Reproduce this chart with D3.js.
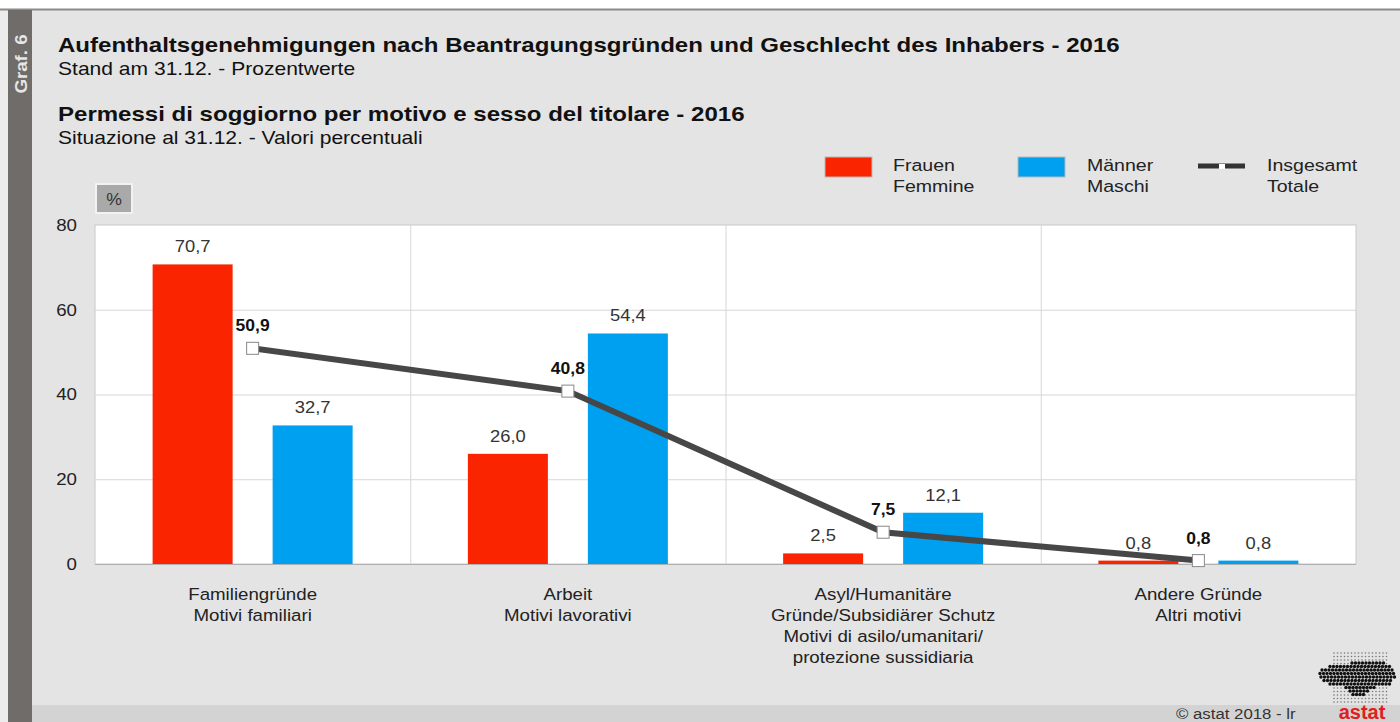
<!DOCTYPE html>
<html>
<head>
<meta charset="utf-8">
<script src="https://cdn.jsdelivr.net/npm/d3@7"></script>
<style>
  body { margin: 0; background: #fff; }
  svg { display: block; font-family: "Liberation Sans", Arial, sans-serif; }
</style>
</head>
<body>
<svg id="chart" width="1400" height="722"></svg>
<script>
// data
categories = [
  ["Familiengründe", "Motivi familiari"],
  ["Arbeit", "Motivi lavorativi"],
  ["Asyl/Humanitäre", "Gründe/Subsidiärer Schutz", "Motivi di asilo/umanitari/", "protezione sussidiaria"],
  ["Andere Gründe", "Altri motivi"]
];
frauenValues = [70.7, 26.0, 2.5, 0.8];
maennerValues = [32.7, 54.4, 12.1, 0.8];
totalValues = [50.9, 40.8, 7.5, 0.8];
yTicks = [0, 20, 40, 60, 80];
seriesNames = ["frauen", "maenner"];

let svg = d3.select("#chart");
let red = "#fa2400", blue = "#00a0f0";
let fmt = v => d3.format(".1f")(v).replace(".", ",");

// the original type is a bit wider than Liberation Sans, so text is stretched horizontally
function addText(parent, x, y, str, size, opts) {
  opts = opts || {};
  return parent.append("text")
    .attr("transform", `translate(${x},${y}) scale(${opts.sx || 1.15},1)`)
    .attr("text-anchor", opts.anchor || "start")
    .attr("font-size", size)
    .attr("font-weight", opts.bold ? "bold" : "normal")
    .attr("fill", opts.fill || "#222")
    .text(str);
}

// background frame
svg.append("rect").attr("x", 0).attr("y", 0).attr("width", 1400).attr("height", 722).attr("fill", "#fff");
svg.append("rect").attr("x", 0).attr("y", 9).attr("width", 1400).attr("height", 713).attr("fill", "#e4e4e4");
svg.append("rect").attr("x", 0).attr("y", 9).attr("width", 8).attr("height", 713).attr("fill", "#ececec");
svg.append("line").attr("x1", 0).attr("x2", 1400).attr("y1", 9.5).attr("y2", 9.5).attr("stroke", "#8a8a8a").attr("stroke-width", 2);
svg.append("rect").attr("x", 8).attr("y", 10).attr("width", 24).attr("height", 712).attr("fill", "#6f6c69");
svg.append("rect").attr("x", 32).attr("y", 705).attr("width", 1368).attr("height", 17).attr("fill", "#d3d3d3");

svg.append("text")
  .attr("transform", "translate(27,64) rotate(-90) scale(1.1,1)")
  .attr("text-anchor", "middle")
  .attr("fill", "#e6e6e6").attr("font-weight", "bold").attr("font-size", 17)
  .text("Graf. 6");

// titles
addText(svg, 58, 52, "Aufenthaltsgenehmigungen nach Beantragungsgründen und Geschlecht des Inhabers - 2016", 21, {bold: true, sx: 1.145, fill: "#111"});
addText(svg, 58, 75, "Stand am 31.12. - Prozentwerte", 18, {sx: 1.17, fill: "#111"});
addText(svg, 58, 121, "Permessi di soggiorno per motivo e sesso del titolare - 2016", 21, {bold: true, sx: 1.145, fill: "#111"});
addText(svg, 58, 144, "Situazione al 31.12. - Valori percentuali", 18, {sx: 1.17, fill: "#111"});

// scales
let plotL = 95, plotR = 1356, plotT = 225, plotB = 564;
let x = d3.scaleBand().domain(d3.range(categories.length)).range([plotL, plotR]).padding(0);
let xSub = d3.scaleBand().domain(seriesNames)
  .range([x.bandwidth() / 2 - 100, x.bandwidth() / 2 + 100]).paddingInner(1 / 3);
let y = d3.scaleLinear().domain([0, 80]).range([plotB, plotT]);

// plot area
svg.append("rect").attr("x", plotL).attr("y", plotT).attr("width", plotR - plotL).attr("height", plotB - plotT)
  .attr("fill", "#fff").attr("stroke", "#c8c8c8");

svg.selectAll(".grid").data(yTicks.slice(1, -1)).enter().append("line")
  .attr("x1", plotL).attr("x2", plotR)
  .attr("y1", d => y(d) + 0.5).attr("y2", d => y(d) + 0.5)
  .attr("stroke", "#d6d6d6");

svg.selectAll(".sep").data(d3.range(1, categories.length)).enter().append("line")
  .attr("x1", d => x(d) + 0.5).attr("x2", d => x(d) + 0.5)
  .attr("y1", plotT).attr("y2", plotB)
  .attr("stroke", "#d6d6d6");

svg.append("line").attr("x1", plotL).attr("x2", plotR).attr("y1", plotB + 0.5).attr("y2", plotB + 0.5)
  .attr("stroke", "#b0b0b0");

// y axis labels
let yAxis = svg.append("g").attr("transform", "translate(77,0)")
  .call(d3.axisLeft(y).tickValues(yTicks).tickSize(0).tickPadding(0));
yAxis.select(".domain").remove();
yAxis.selectAll("text").attr("font-size", 17).attr("fill", "#222")
  .attr("transform", "scale(1.1,1)")
  .attr("font-family", "Liberation Sans, Arial, sans-serif");

// "%" box
svg.append("rect").attr("x", 96).attr("y", 184).attr("width", 36).attr("height", 29)
  .attr("fill", "#a9a9a9").attr("stroke", "#f2f2f2").attr("stroke-width", 2);
addText(svg, 114, 205, "%", 16, {anchor: "middle", fill: "#333", sx: 1.1});

// bars
let groups = svg.selectAll(".cat").data(categories).enter().append("g")
  .attr("transform", (d, i) => `translate(${x(i)},0)`);

[["frauen", frauenValues, red], ["maenner", maennerValues, blue]].forEach(([name, vals, col]) => {
  groups.append("rect")
    .attr("x", xSub(name)).attr("width", xSub.bandwidth())
    .attr("y", (d, i) => y(vals[i])).attr("height", (d, i) => plotB - y(vals[i]))
    .attr("fill", col);
  groups.each(function(d, i) {
    addText(d3.select(this), xSub(name) + xSub.bandwidth() / 2, y(vals[i]) - 12, fmt(vals[i]), 17,
      {anchor: "middle", fill: "#333", sx: 1.08});
  });
});

// category labels
groups.each(function(d) {
  let g = d3.select(this);
  d.forEach((t, j) => addText(g, x.bandwidth() / 2, 600 + j * 21, t, 17, {anchor: "middle", sx: 1.1}));
});

// total line
let cx = i => x(i) + x.bandwidth() / 2;
let line = d3.line().x((d, i) => cx(i)).y(d => y(d));
svg.append("path").datum(totalValues).attr("d", line)
  .attr("fill", "none").attr("stroke", "#474747").attr("stroke-width", 6);
svg.selectAll(".mk").data(totalValues).enter().append("rect")
  .attr("x", (d, i) => cx(i) - 6).attr("y", d => y(d) - 6)
  .attr("width", 12).attr("height", 12)
  .attr("fill", "#fff").attr("stroke", "#888").attr("stroke-width", 1);
totalValues.forEach((v, i) => {
  addText(svg, cx(i), y(v) - 17, fmt(v), 17, {anchor: "middle", bold: true, fill: "#111", sx: 1.03});
});

// legend
let lg = svg.append("g");
lg.append("rect").attr("x", 825).attr("y", 157).attr("width", 47).attr("height", 20).attr("fill", red)
  .attr("stroke", "#b8b8b8");
lg.append("rect").attr("x", 1018).attr("y", 157).attr("width", 47).attr("height", 20).attr("fill", blue)
  .attr("stroke", "#b8b8b8");
lg.append("line").attr("x1", 1198).attr("x2", 1245).attr("y1", 166).attr("y2", 166)
  .attr("stroke", "#333").attr("stroke-width", 5);
lg.append("rect").attr("x", 1219).attr("y", 164).attr("width", 6).attr("height", 5).attr("fill", "#fff");
let legendText = [
  [893, ["Frauen", "Femmine"]],
  [1087, ["Männer", "Maschi"]],
  [1267, ["Insgesamt", "Totale"]]
];
legendText.forEach(([lx, lines]) => {
  lines.forEach((t, j) => addText(lg, lx, 171 + j * 21, t, 17, {sx: 1.15}));
});

// footer
addText(svg, 1176, 719, "©  astat 2018 - lr", 15, {fill: "#333", sx: 1.12});

// astat logo: dotted silhouette
let logo = svg.append("g");
d3.range(1334, 1390, 3.5).forEach(dx => {
  d3.range(653, 704, 3.5).forEach(dy => {
    logo.append("circle").attr("cx", dx).attr("cy", dy).attr("r", 0.8).attr("fill", "#777");
  });
});
let blobRows = [
  [1352, 1384], [1330, 1390], [1322, 1394], [1320, 1396], [1321, 1395],
  [1324, 1393], [1330, 1390], [1346, 1376], [1350, 1370], [1353, 1366]
];
blobRows.forEach(([a, b], r) => {
  d3.range(a, b, 3.5).forEach(dx => {
    logo.append("circle").attr("cx", dx).attr("cy", 663 + r * 3.5).attr("r", 1.7).attr("fill", "#111");
  });
});
svg.append("text").attr("x", 1362).attr("y", 719).attr("text-anchor", "middle")
  .attr("font-size", 20).attr("font-weight", "bold").attr("fill", "#e02020").text("astat");
</script>
</body>
</html>
